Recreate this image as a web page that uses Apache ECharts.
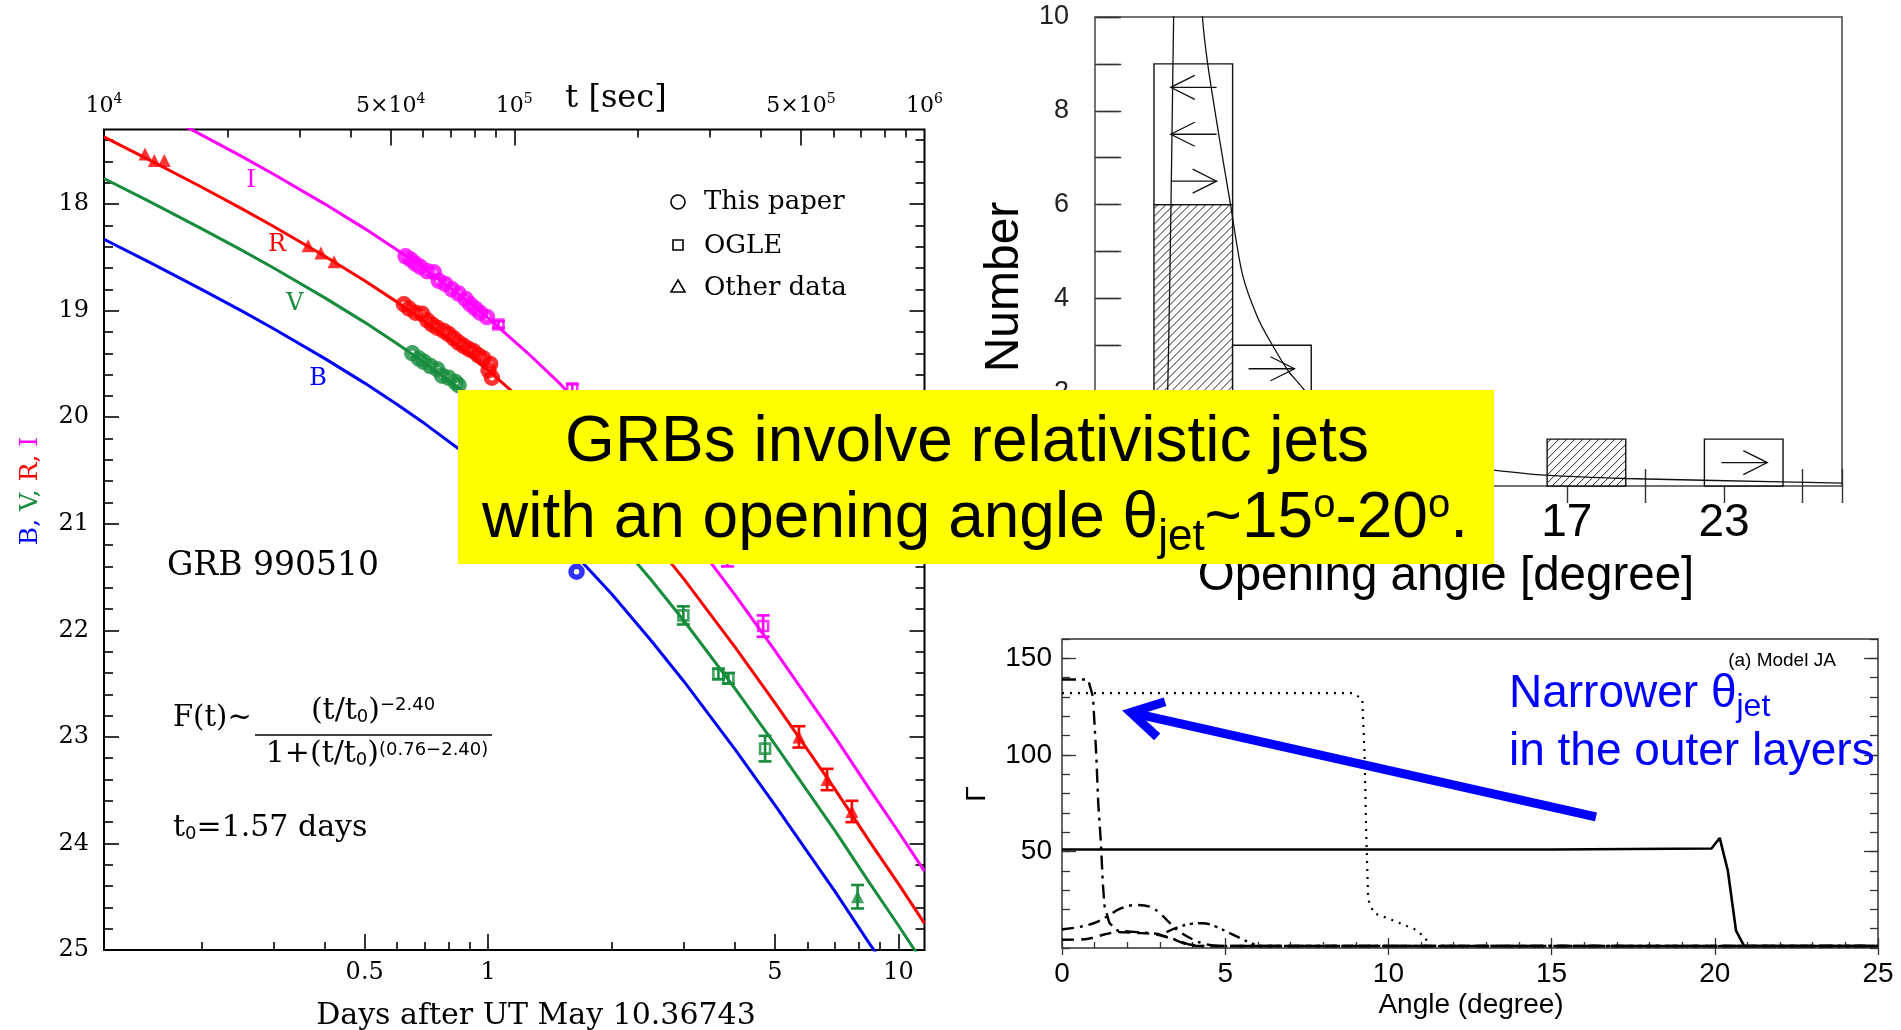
<!DOCTYPE html>
<html>
<head>
<meta charset="utf-8">
<script src="https://cdn.jsdelivr.net/npm/echarts@6/dist/echarts.min.js"></script>
<style>
  html, body { margin: 0; padding: 0; background: #fff; }
  #main { width: 1901px; height: 1030px; }
</style>
</head>
<body>
<div id="main"></div>
<script>
// ---------- GRB 990510 optical light curves (left panel) ----------
// broken power-law model curves, sampled in days after UT May 10.36743
const modelDays = [0.1157, 0.15, 0.2, 0.25, 0.3, 0.4, 0.5, 0.6, 0.7, 0.85, 1, 1.25, 1.5, 2, 2.5, 3, 4, 5, 6, 7, 8.5, 10, 11.57];
const modelI = [16.88, 17.10, 17.35, 17.55, 17.72, 18.00, 18.23, 18.43, 18.61, 18.85, 19.07, 19.40, 19.69, 20.21, 20.65, 21.03, 21.67, 22.19, 22.63, 23.00, 23.49, 23.89, 24.26];
const modelR = [17.37, 17.59, 17.84, 18.04, 18.21, 18.49, 18.72, 18.92, 19.10, 19.34, 19.56, 19.89, 20.18, 20.70, 21.14, 21.52, 22.16, 22.68, 23.12, 23.49, 23.98, 24.38, 24.75];
const modelV = [17.76, 17.98, 18.23, 18.43, 18.60, 18.88, 19.11, 19.31, 19.49, 19.73, 19.95, 20.28, 20.57, 21.09, 21.53, 21.91, 22.55, 23.07, 23.51, 23.88, 24.37, 24.77, 25.14];
const modelB = [18.33, 18.55, 18.80, 19.00, 19.17, 19.45, 19.68, 19.88, 20.06, 20.30, 20.52, 20.85, 21.14, 21.66, 22.10, 22.48, 23.12, 23.64, 24.08, 24.45, 24.94, 25.34, 25.71];

// "This paper" photometry
const iPaperDays = [0.629, 0.647, 0.665, 0.684, 0.710, 0.737, 0.758, 0.786, 0.816, 0.847, 0.880, 0.904, 0.930, 0.956, 0.993];
const iPaperMag  = [18.49, 18.52, 18.56, 18.59, 18.63, 18.64, 18.72, 18.75, 18.80, 18.84, 18.89, 18.94, 18.98, 19.02, 19.06];
const rPaperDays = [0.623, 0.641, 0.665, 0.690, 0.710, 0.730, 0.751, 0.779, 0.801, 0.824, 0.847, 0.871, 0.896, 0.921, 0.947, 0.974, 1.011, 1.002, 1.021];
const rPaperMag  = [18.94, 18.98, 19.02, 19.03, 19.09, 19.13, 19.16, 19.19, 19.22, 19.26, 19.30, 19.33, 19.36, 19.38, 19.42, 19.45, 19.50, 19.56, 19.63];
const vPaperDays = [0.653, 0.678, 0.697, 0.723, 0.751, 0.772, 0.801, 0.832, 0.847];
const vPaperMag  = [19.40, 19.45, 19.48, 19.52, 19.55, 19.61, 19.63, 19.67, 19.70];
const bPaperDays = [1.642];
const bPaperMag  = [21.45];

// OGLE photometry
const iOgleDays = [1.059, 1.603, 3.83, 4.68];
const iOgleMag  = [19.13, 19.73, 21.30, 21.96];
const iOgleErr  = [0.03, 0.04, 0.10, 0.10];
const vOgleDays = [2.99, 3.64, 3.85, 4.73];
const vOgleMag  = [21.86, 22.41, 22.45, 23.11];
const vOgleErr  = [0.085, 0.05, 0.05, 0.12];

// other published data
const rOtherDays = [0.1457, 0.1535, 0.1623, 0.364, 0.391, 0.421, 5.72, 6.70, 7.70];
const rOtherMag  = [17.53, 17.59, 17.59, 18.39, 18.46, 18.54, 23.00, 23.40, 23.70];
const rOtherErr  = [0, 0, 0, 0, 0, 0, 0.10, 0.10, 0.10];
const vOtherDays = [7.95];
const vOtherMag  = [24.50];
const vOtherErr  = [0.11];

// axis ticks (days below, seconds above, magnitudes)
const dayMajorTicks = [0.5, 1, 5, 10];
const dayMinorTicks = [0.2, 0.3, 0.4, 0.6, 0.7, 0.8, 0.9, 2, 3, 4, 6, 7, 8, 9];
const secMajorTicks = [5e4, 1e5, 5e5];
const secMinorTicks = [2e4, 3e4, 4e4, 6e4, 7e4, 8e4, 9e4, 2e5, 3e5, 4e5, 6e5, 7e5, 8e5, 9e5];
const secLabelValues = [1.0001e4, 5e4, 1e5, 5e5, 0.9999e6];
const magMajorTicks = [18, 19, 20, 21, 22, 23, 24, 25];

// ---------- opening-angle histogram (top right) ----------
const binCentres    = [2.75, 5.75, 17.75, 23.75];
const hatchedCounts = [6, 0, 1, 0];
const openCounts    = [3, 3, 0, 1];
const angleLabelValues = [5, 11, 17, 23];
const countLabelValues = [0, 2, 4, 6, 8, 10];
// limit arrows: [count level, from angle, to angle]
const limitArrows = [[8.5, 3.64, 1.89], [7.5, 3.64, 1.89], [6.5, 1.89, 3.64], [2.5, 4.86, 6.61], [0.5, 22.9, 24.65]];
// fitted distribution
const fitAngle = [1.6, 1.7, 1.78, 1.86, 1.93, 2.0, 2.1, 2.3, 2.55, 2.8, 3.1, 3.3, 3.72, 4.17, 4.63, 5.2, 5.77, 6.35, 6.6, 8, 10, 12, 14.2, 16.2, 19.2, 25.2, 27.5];
const fitCount = [0, 0.6, 2.2, 4.6, 7.2, 10, 13, 15.5, 15.5, 13.3, 10, 9, 7.5, 6, 4.5, 3.6, 3.0, 2.47, 2.3, 1.45, 0.85, 0.5, 0.34, 0.23, 0.16, 0.09, 0.06];

// ---------- Lorentz factor vs angle, Model JA (bottom right) ----------
const solidAngle  = [0, 5, 10, 15, 19.9, 20.15, 20.4, 20.65, 20.9, 25];
const solidGamma  = [51, 51, 51, 51, 51.5, 57, 40, 9, 1, 1];
const dotAngle    = [0, 8.9, 9.2, 9.27, 9.32, 9.38, 9.56, 10.1, 10.85, 11.1, 11.3, 25];
const dotGamma    = [132, 132, 129, 100, 60, 25, 18, 14.6, 9.4, 5.7, 1, 1];
const dashDotAngle = [0, 0.8, 0.95, 1.05, 1.11, 1.19, 1.25, 1.3, 1.45, 1.7, 2.3, 2.9, 3.4, 3.9, 4.3, 25];
const dashDotGamma = [139, 139, 130, 100, 75, 55, 34, 22, 13, 9, 8.2, 7.4, 4.8, 1.8, 1, 1];
const dashAngle   = [0, 0.7, 1.3, 1.7, 2.3, 2.9, 3.4, 3.9, 4.3, 25];
const dashGamma   = [4.3, 4.5, 7.0, 8.2, 7.8, 7.0, 4.5, 1.5, 1, 1];
const bumpAngle   = [0, 0.5, 1.0, 1.4, 1.8, 2.3, 2.7, 3.0, 3.3, 3.6, 4.0, 4.4, 4.9, 25];
const bumpGamma   = [9.6, 10.8, 13, 16.5, 20.5, 22.3, 21.3, 18, 13, 8.5, 4.5, 2, 1, 1];
const bump2Angle  = [3.2, 3.6, 4.0, 4.3, 4.7, 5.1, 5.5, 5.8, 6.1, 25];
const bump2Gamma  = [8.2, 11, 12.6, 12.8, 11.2, 8, 4.8, 2.5, 1, 1];
const gammaMajorTicks = [50, 100, 150];
// annotation arrow, in (angle, Gamma)
const arrowTail = [16.36, 67.9];
const arrowTip  = [2.11, 121.9];

// ---------- styling ----------
const SERIF = 'DejaVu Serif';
const SANS = 'Liberation Sans';
const C_I = '#ff00ff', C_R = '#ff0000', C_V = '#178c3c', C_B = '#0000ff';
const DAY_MIN = 1e4 / 86400, DAY_MAX = 1e6 / 86400;

const zip = (xs, ys) => xs.map((x, i) => [x, ys[i]]);
const zip3 = (xs, ys, es) => xs.map((x, i) => [x, ys[i], es[i]]).filter(d => d[2] > 0);

const blackTick = { color: '#000', width: 1.6 };
function hiddenAxisParts() {
  return { axisLine: { show: false }, splitLine: { show: false } };
}
function logAxis(pos, min, max, ticks, len, label) {
  return Object.assign({
    gridIndex: 0, type: 'log', logBase: 10, min: min, max: max, position: pos,
    axisTick: { show: true, inside: true, length: len, customValues: ticks, lineStyle: blackTick },
    axisLabel: label || { show: false }
  }, hiddenAxisParts());
}
function magAxis(pos, ticks, len, label) {
  return Object.assign({
    gridIndex: 0, type: 'value', min: 17.3, max: 25, inverse: true, position: pos,
    axisTick: { show: true, inside: true, length: len, customValues: ticks, lineStyle: blackTick },
    axisLabel: label || { show: false }
  }, hiddenAxisParts());
}

const magMinorTicks = [];
for (let k = 174; k <= 248; k += 2) { if (k % 10 !== 0) magMinorTicks.push(k / 10); }

function fmtSeconds(v) {
  const e = Math.floor(Math.log10(v) + 0.01);
  const m = Math.round(v / Math.pow(10, e));
  return m === 1 ? '{b|10}{s|' + e + '}' : '{b|' + m + '×10}{s|' + e + '}';
}

function lineSeries(xs, ys, color) {
  return {
    type: 'line', xAxisIndex: 0, yAxisIndex: 0, data: zip(xs, ys), showSymbol: false, symbol: 'none',
    smooth: false, clip: true, lineStyle: { color: color, width: 3, join: 'round' }, z: 2, silent: true
  };
}
function pointSeries(xs, ys, color, symbol, size, filled) {
  return {
    type: 'scatter', xAxisIndex: 0, yAxisIndex: 0, data: zip(xs, ys), symbol: symbol, symbolSize: size,
    itemStyle: filled ? { color: color } : { color: 'rgba(0,0,0,0)', borderColor: color, borderWidth: symbol === 'circle' ? 5.5 : 2.6 },
    z: 4, silent: true
  };
}
function errorSeries(xs, ys, es, color) {
  return {
    type: 'custom', xAxisIndex: 0, yAxisIndex: 0, data: zip3(xs, ys, es), z: 3, silent: true,
    renderItem: function (params, api) {
      const x = api.value(0), y = api.value(1), e = api.value(2);
      const a = api.coord([x, y - e]), b = api.coord([x, y + e]);
      const st = { stroke: color, lineWidth: 2.6 };
      return { type: 'group', children: [
        { type: 'line', shape: { x1: a[0], y1: a[1], x2: b[0], y2: b[1] }, style: st },
        { type: 'line', shape: { x1: a[0] - 6.5, y1: a[1], x2: a[0] + 6.5, y2: a[1] }, style: st },
        { type: 'line', shape: { x1: b[0] - 6.5, y1: b[1], x2: b[0] + 6.5, y2: b[1] }, style: st }
      ] };
    }
  };
}

// diagonal "/" hatching clipped to a pixel rectangle
function hatchLines(x0, x1, yt, yb, step, style) {
  const out = [];
  for (let k = x0 + yt + step / 2; k < x1 + yb; k += step) {
    const lo = Math.max(x0, k - yb), hi = Math.min(x1, k - yt);
    if (hi > lo) out.push({ type: 'line', shape: { x1: lo, y1: k - lo, x2: hi, y2: k - hi }, style: style });
  }
  return out;
}

// ---------- grids ----------
const HIST_MIN = -1, HIST_MAX = 27.5, BIN_WIDTH = 3;
const histTick = { color: '#333', width: 1.4 };
const gamTick = { color: '#333', width: 1.3 };

function countAxis(pos, ticks, label) {
  return Object.assign({
    gridIndex: 1, type: 'value', min: 0, max: 10, interval: 1, position: pos,
    axisTick: ticks ? { show: true, inside: true, length: 24, lineStyle: histTick } : { show: false },
    axisLabel: label || { show: false }
  }, hiddenAxisParts());
}

const option = {
  animation: false,
  backgroundColor: '#fff',
  grid: [
    { left: 104, top: 129.5, width: 820.5, height: 820.5, show: true, borderColor: '#000', borderWidth: 2, backgroundColor: 'transparent' },
    { left: 1095, top: 17, width: 747, height: 469, show: true, borderColor: '#444', borderWidth: 1.5, backgroundColor: 'transparent' },
    { left: 1062, top: 639, width: 816, height: 309, show: true, borderColor: '#333', borderWidth: 1.5, backgroundColor: 'transparent' }
  ],
  xAxis: [
    logAxis('bottom', DAY_MIN, DAY_MAX, dayMajorTicks, 16, {
      show: true, customValues: dayMajorTicks, margin: 11, fontFamily: SERIF, fontSize: 24, color: '#000',
      formatter: v => String(+(+v).toPrecision(3))
    }),
    logAxis('bottom', DAY_MIN, DAY_MAX, dayMinorTicks, 8),
    logAxis('top', 1e4, 1e6, secMajorTicks, 16, {
      show: true, customValues: secLabelValues, margin: 9, formatter: fmtSeconds,
      rich: {
        b: { fontFamily: SERIF, fontSize: 22, color: '#000' },
        s: { fontFamily: SERIF, fontSize: 14, color: '#000', padding: [0, 0, 14, 0] }
      }
    }),
    logAxis('top', 1e4, 1e6, secMinorTicks, 8),
    Object.assign({
      gridIndex: 1, type: 'value', min: HIST_MIN, max: HIST_MAX, interval: 3, position: 'bottom',
      axisTick: { inside: true, length: 17, lineStyle: histTick },
      axisLabel: { customValues: angleLabelValues, margin: 14, fontFamily: SANS, fontSize: 46, color: '#000' }
    }, hiddenAxisParts()),
    Object.assign({
      gridIndex: 1, type: 'value', min: HIST_MIN, max: HIST_MAX, interval: 3, position: 'top',
      axisTick: { inside: true, length: 17, lineStyle: histTick }, axisLabel: { show: false }
    }, hiddenAxisParts()),
    Object.assign({
      gridIndex: 2, type: 'value', min: 0, max: 25, interval: 5, position: 'bottom',
      axisTick: { inside: true, length: 10, lineStyle: gamTick },
      minorTick: { show: true, splitNumber: 5, length: 6, lineStyle: gamTick },
      axisLabel: { margin: 12, fontFamily: SANS, fontSize: 28, color: '#000' }
    }, hiddenAxisParts()),
    Object.assign({
      gridIndex: 2, type: 'value', min: 0, max: 25, interval: 5, position: 'top',
      axisTick: { inside: true, length: 7, lineStyle: gamTick }, axisLabel: { show: false }
    }, hiddenAxisParts())
  ],
  yAxis: [
    magAxis('left', magMajorTicks, 15, {
      show: true, customValues: magMajorTicks, margin: 15, fontFamily: SERIF, fontSize: 24, color: '#000'
    }),
    magAxis('left', magMinorTicks, 9),
    magAxis('right', magMajorTicks, 15),
    magAxis('right', magMinorTicks, 9),
    countAxis('left', false, { customValues: countLabelValues, margin: 26, fontFamily: SANS, fontSize: 27, color: '#222' }),
    countAxis('right', true),
    Object.assign({
      gridIndex: 2, type: 'value', min: 0, max: 160, position: 'left',
      axisTick: { inside: true, length: 14, customValues: gammaMajorTicks, lineStyle: gamTick },
      axisLabel: { customValues: gammaMajorTicks, margin: 10, fontFamily: SANS, fontSize: 28, color: '#000' }
    }, hiddenAxisParts()),
    Object.assign({
      gridIndex: 2, type: 'value', min: 0, max: 160, interval: 10, position: 'left',
      axisTick: { inside: true, length: 8, lineStyle: gamTick }, axisLabel: { show: false }
    }, hiddenAxisParts()),
    Object.assign({
      gridIndex: 2, type: 'value', min: 0, max: 160, position: 'right',
      axisTick: { inside: true, length: 14, customValues: gammaMajorTicks, lineStyle: gamTick }, axisLabel: { show: false }
    }, hiddenAxisParts()),
    Object.assign({
      gridIndex: 2, type: 'value', min: 0, max: 160, interval: 10, position: 'right',
      axisTick: { inside: true, length: 8, lineStyle: gamTick }, axisLabel: { show: false }
    }, hiddenAxisParts()),
    countAxis('left', true)
  ],
  series: [
    // model curves
    lineSeries(modelDays, modelI, C_I),
    lineSeries(modelDays, modelR, C_R),
    lineSeries(modelDays, modelV, C_V),
    lineSeries(modelDays, modelB, C_B),
    // error bars
    errorSeries(iOgleDays, iOgleMag, iOgleErr, C_I),
    errorSeries(vOgleDays, vOgleMag, vOgleErr, C_V),
    errorSeries(rOtherDays, rOtherMag, rOtherErr, C_R),
    errorSeries(vOtherDays, vOtherMag, vOtherErr, C_V),
    // photometry
    pointSeries(iPaperDays, iPaperMag, C_I, 'circle', 11),
    pointSeries(rPaperDays, rPaperMag, C_R, 'circle', 11),
    pointSeries(vPaperDays, vPaperMag, C_V, 'circle', 11),
    pointSeries(bPaperDays, bPaperMag, C_B, 'circle', 11),
    pointSeries(iOgleDays, iOgleMag, C_I, 'rect', 10),
    pointSeries(vOgleDays, vOgleMag, C_V, 'rect', 10),
    pointSeries(rOtherDays, rOtherMag, C_R, 'triangle', 13, true),
    pointSeries(vOtherDays, vOtherMag, C_V, 'triangle', 13, true),

    // histogram bins: hatched lower part, open upper part
    {
      type: 'custom', xAxisIndex: 4, yAxisIndex: 4, z: 2, silent: true,
      data: binCentres.map((c, i) => [c, hatchedCounts[i], openCounts[i]]),
      renderItem: function (params, api) {
        const c = api.value(0), h = api.value(1), o = api.value(2);
        const base = api.coord([c - BIN_WIDTH / 2, 0]);
        const mid = api.coord([c + BIN_WIDTH / 2, h]);
        const top = api.coord([c + BIN_WIDTH / 2, h + o]);
        const x0 = base[0], x1 = mid[0];
        const edge = { stroke: '#111', lineWidth: 1.4, fill: null };
        const children = [];
        if (h > 0) {
          children.push({ type: 'rect', shape: { x: x0, y: mid[1], width: x1 - x0, height: base[1] - mid[1] }, style: { fill: '#fff' } });
          hatchLines(x0, x1, mid[1], base[1], 8, { stroke: '#222', lineWidth: 1 }).forEach(l => children.push(l));
          children.push({ type: 'rect', shape: { x: x0, y: mid[1], width: x1 - x0, height: base[1] - mid[1] }, style: edge });
        }
        if (o > 0) {
          children.push({ type: 'rect', shape: { x: x0, y: top[1], width: x1 - x0, height: mid[1] - top[1] }, style: { fill: '#fff', stroke: '#111', lineWidth: 1.4 } });
        }
        return { type: 'group', children: children };
      }
    },
    {
      type: 'line', xAxisIndex: 4, yAxisIndex: 4, data: zip(fitAngle, fitCount), symbol: 'none', smooth: 0.3,
      clip: true, lineStyle: { color: '#111', width: 1.3 }, z: 4, silent: true
    },
    {
      type: 'custom', xAxisIndex: 4, yAxisIndex: 4, data: limitArrows, z: 5, silent: true,
      renderItem: function (params, api) {
        const y = api.value(0);
        const a = api.coord([api.value(1), y]), b = api.coord([api.value(2), y]);
        const dir = b[0] > a[0] ? 1 : -1;
        const st = { stroke: '#111', lineWidth: 1.3, fill: null };
        return { type: 'group', children: [
          { type: 'line', shape: { x1: a[0], y1: a[1], x2: b[0], y2: b[1] }, style: st },
          { type: 'polyline', shape: { points: [[b[0] - dir * 24, b[1] - 12], [b[0], b[1]], [b[0] - dir * 24, b[1] + 12]] }, style: st }
        ] };
      }
    },

    // Lorentz factor profiles
    { type: 'line', xAxisIndex: 6, yAxisIndex: 6, data: zip(solidAngle, solidGamma), symbol: 'none', clip: true, silent: true,
      lineStyle: { color: '#000', width: 2.6 } },
    { type: 'line', xAxisIndex: 6, yAxisIndex: 6, data: zip(dotAngle, dotGamma), symbol: 'none', clip: true, silent: true,
      lineStyle: { color: '#000', width: 2.2, type: [2, 6] } },
    { type: 'line', xAxisIndex: 6, yAxisIndex: 6, data: zip(dashDotAngle, dashDotGamma), symbol: 'none', clip: true, silent: true,
      lineStyle: { color: '#000', width: 2.4, type: [14, 6, 3, 6] } },
    { type: 'line', xAxisIndex: 6, yAxisIndex: 6, data: zip(dashAngle, dashGamma), symbol: 'none', clip: true, silent: true, smooth: 0.3,
      lineStyle: { color: '#000', width: 2.4, type: [12, 7] } },
    { type: 'line', xAxisIndex: 6, yAxisIndex: 6, data: zip(bumpAngle, bumpGamma), symbol: 'none', clip: true, silent: true, smooth: 0.4,
      lineStyle: { color: '#000', width: 2.4, type: [12, 6, 3, 6] } },
    { type: 'line', xAxisIndex: 6, yAxisIndex: 6, data: zip(bump2Angle, bump2Gamma), symbol: 'none', clip: true, silent: true, smooth: 0.4,
      lineStyle: { color: '#000', width: 2.4, type: [12, 5, 3, 5, 3, 5] } }
  ]
};

const chart = echarts.init(document.getElementById('main'), null, { renderer: 'canvas' });
chart.setOption(option);

// ---------- annotations ----------
function txt(x, y, text, size, family, color, align, extra) {
  return Object.assign({
    type: 'text', x: x, y: y, z: 10,
    style: {
      text: text, fill: color || '#000', fontSize: size, fontFamily: family,
      align: align || 'left', verticalAlign: 'middle', textAlign: align || 'left', textVerticalAlign: 'middle'
    }
  }, extra || {});
}
function richTxt(x, y, text, rich, align, extra) {
  const el = txt(x, y, text, rich.m.fontSize, rich.m.fontFamily, rich.m.fill, align, extra);
  el.style.rich = rich;
  return el;
}

const elements = [];

// light-curve panel
elements.push(txt(616, 99, 't [sec]', 32, SERIF, '#000', 'center'));
elements.push(txt(536, 1016, 'Days after UT May 10.36743', 30, SERIF, '#000', 'center'));
elements.push(richTxt(30, 491, '{b|B, }{v|V, }{r|R, }{i|I}', {
  m: { fontSize: 25, fontFamily: SERIF, fill: '#000' },
  b: { fontSize: 25, fontFamily: SERIF, fill: C_B },
  v: { fontSize: 25, fontFamily: SERIF, fill: C_V },
  r: { fontSize: 25, fontFamily: SERIF, fill: C_R },
  i: { fontSize: 25, fontFamily: SERIF, fill: C_I }
}, 'center', { rotation: Math.PI / 2 }));
elements.push(txt(251, 181, 'I', 24, SERIF, C_I, 'center'));
elements.push(txt(277, 245, 'R', 24, SERIF, C_R, 'center'));
elements.push(txt(295, 304, 'V', 24, SERIF, C_V, 'center'));
elements.push(txt(318, 379, 'B', 24, SERIF, C_B, 'center'));
elements.push({ type: 'circle', z: 10, shape: { cx: 678, cy: 202, r: 7 }, style: { fill: 'none', stroke: '#000', lineWidth: 1.6 } });
elements.push({ type: 'rect', z: 10, shape: { x: 673, y: 240, width: 10, height: 10 }, style: { fill: 'none', stroke: '#000', lineWidth: 1.6 } });
elements.push({ type: 'polygon', z: 10, shape: { points: [[678, 280], [685, 292], [671, 292]] }, style: { fill: 'none', stroke: '#000', lineWidth: 1.6 } });
elements.push(txt(704, 202, 'This paper', 26, SERIF));
elements.push(txt(704, 246, 'OGLE', 26, SERIF));
elements.push(txt(704, 288, 'Other data', 26, SERIF));
elements.push(txt(167, 566, 'GRB 990510', 33, SERIF));
elements.push(txt(173, 718, 'F(t)~', 29, SERIF));
const formulaRich = {
  m: { fontSize: 30, fontFamily: SERIF, fill: '#000' },
  sub: { fontSize: 18, fontFamily: 'DejaVu Sans', fill: '#000', padding: [12, 0, 0, 0] },
  sup: { fontSize: 18, fontFamily: 'DejaVu Sans', fill: '#000', padding: [0, 0, 12, 0] },
  sup2: { fontSize: 18, fontFamily: 'DejaVu Sans', fill: '#000', padding: [0, 0, 8, 0] }
};
elements.push(richTxt(373, 711, '{m|(t/t}{sub|0}{m|)}{sup|−2.40}', formulaRich, 'center'));
elements.push({ type: 'line', z: 10, shape: { x1: 255, y1: 735, x2: 492, y2: 735 }, style: { stroke: '#000', lineWidth: 1.6 } });
elements.push(richTxt(377, 754, '{m|1+(t/t}{sub|0}{m|)}{sup2|(0.76−2.40)}', formulaRich, 'center'));
elements.push(richTxt(173, 828, '{m|t}{sub|0}{m|=1.57 days}', formulaRich, 'left'));

// histogram labels
elements.push(txt(1005, 287, 'Number', 48, SANS, '#000', 'center', { rotation: Math.PI / 2 }));
elements.push(txt(1446, 577, 'Opening angle [degree]', 47.5, SANS, '#000', 'center'));

// Lorentz-factor panel labels
elements.push(txt(977, 794, 'Γ', 28, SANS, '#000', 'center', { rotation: Math.PI / 2 }));
elements.push(txt(1471, 1005, 'Angle (degree)', 28, SANS, '#000', 'center'));
elements.push(txt(1782, 661, '(a) Model JA', 19, SANS, '#000', 'center'));

// highlighted statement
elements.push({ type: 'rect', z: 100, shape: { x: 458, y: 390, width: 1036, height: 174 }, style: { fill: '#ffff00' } });
elements.push(txt(967, 443, 'GRBs involve relativistic jets', 64, SANS, '#000', 'center', { z: 101 }));
elements.push(richTxt(975, 519, '{m|with an opening angle θ}{sub|jet}{m|~15}{sup|o}{m|-20}{sup|o}{m|.}', {
  m: { fontSize: 64, fontFamily: SANS, fill: '#000' },
  sub: { fontSize: 44, fontFamily: SANS, fill: '#000', padding: [38, 0, 0, 0] },
  sup: { fontSize: 40, fontFamily: SANS, fill: '#000', padding: [0, 0, 26, 0] }
}, 'center', { z: 101 }));

// blue annotation: arrow towards the narrow inner profiles
const tail = chart.convertToPixel({ gridIndex: 2 }, arrowTail);
const tip = chart.convertToPixel({ gridIndex: 2 }, arrowTip);
const dx = tip[0] - tail[0], dy = tip[1] - tail[1], L = Math.hypot(dx, dy);
const ux = dx / L, uy = dy / L, px = -uy, py = ux;
const back = [tip[0] - ux * 31, tip[1] - uy * 31];
const blueStroke = { stroke: '#0000ff', lineWidth: 9, fill: null, lineJoin: 'miter', lineCap: 'butt' };
elements.push({ type: 'line', z: 20, shape: { x1: tail[0], y1: tail[1], x2: tip[0] - ux * 6, y2: tip[1] - uy * 6 }, style: blueStroke });
elements.push({ type: 'polyline', z: 20, shape: { points: [[back[0] + px * 18, back[1] + py * 18], [tip[0], tip[1]], [back[0] - px * 18, back[1] - py * 18]] }, style: blueStroke });
elements.push(richTxt(1509, 694, '{m|Narrower θ}{sub|jet}', {
  m: { fontSize: 46, fontFamily: SANS, fill: '#0000ff' },
  sub: { fontSize: 32, fontFamily: SANS, fill: '#0000ff', padding: [26, 0, 0, 0] }
}, 'left', { z: 20 }));
elements.push(txt(1509, 752, 'in the outer layers', 46, SANS, '#0000ff', 'left', { z: 20 }));

chart.setOption({ graphic: { elements: elements } });
</script>
</body>
</html>
